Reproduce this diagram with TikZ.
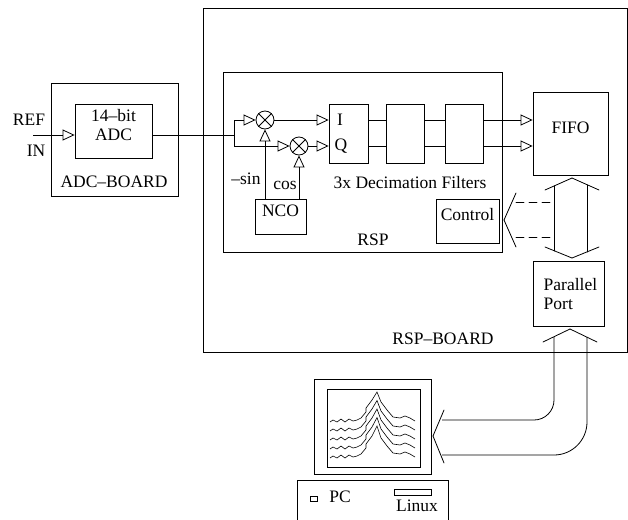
\documentclass[tikz,border=0pt]{standalone}
\usepackage{fontspec}
\setmainfont{Liberation Serif}
\usepackage{tkz-euclide}
\usetikzlibrary{arrows.meta,fit}
\tikzset{
  box/.style={draw, line width=0.8pt, inner sep=0pt},
  inarrow/.style={-{Triangle[open,length=12pt,width=11pt]}},
  mixer/.style={draw, circle, minimum size=18pt, inner sep=0pt},
}
\newcommand{\myMixer}[2]{
\node[mixer] (#1) at (#2) {};
\draw (#1.north west) -- (#1.south east) (#1.north east) -- (#1.south west);
}

\begin{document}
\begin{tikzpicture}[x=1pt, y=-1pt, line width=0.8pt, font=\fontsize{17.5}{18.5}\selectfont]
	\clip (0,0) rectangle (628,519);
	% boards
	\node[box, fit={(203,8) (627,352)}] (rspboard) {};
	\node[box, fit={(51,83) (178,196)}] (adcboard) {};
	\node[box, fit={(223,72) (502,252)}] (rsp) {};
	% blocks
	\node[box, fit={(75,104) (152,158)}, align=center] (adc) {14--bit\\ADC};
	\node[box, fit={(329,104) (368,163)}] (iq) {};
	\node[box, fit={(386,104) (424,163)}] (filtb) {};
	\node[box, fit={(445,104) (483,163)}] (filtc) {};
	\node[box, fit={(533,92) (608,175)}] (fifo) {FIFO};
	\node[box, fit={(255,199) (306,234)}] (nco) {NCO};
	\node[box, fit={(436,199) (499,243)}] (control) {Control};
	\node[box, fit={(533,261) (604,326)}] (pport) {};
	\node[anchor=west, align=left] (pporttext) at (540,294) {Parallel\\Port};
	% mixers
	\myMixer{mixa}{265,120}
	\myMixer{mixb}{299,146}
	% labels
	\node (ref) at (29,120) {REF};
	\node (in) at (36,151) {IN};
	\node (adcboardlabel) at (114,182) {ADC--BOARD};
	\node (ilabel) at (340,120) {I};
	\node (qlabel) at (341,146) {Q};
	\node (msin) at (246,179) {--sin};
	\node (cos) at (285,185) {cos};
	\node (decim) at (410,183) {3x Decimation Filters};
	\node (rsplabel) at (373,240) {RSP};
	\node (rspboardlabel) at (443,339) {RSP--BOARD};
	% signal path
	\coordinate (inport) at (33,135);
	\coordinate (split) at (234,135);
	\draw[inarrow] (inport) -- (adc.west |- inport);
	\draw (adc.east |- split) -- (split);
	\draw (split |- mixa) -- (split |- mixb);
	\draw[inarrow] (split |- mixa) -- (mixa);
	\draw[inarrow] (split |- mixb) -- (mixb);
	\draw[inarrow] (mixa) -- (iq.west |- mixa);
	\draw[inarrow] (mixb) -- (iq.west |- mixb);
	\draw[inarrow] (nco.north -| mixa) -- (mixa);
	\draw[inarrow] (nco.north -| mixb) -- (mixb);
	\foreach \m in {mixa, mixb} {
		\draw (iq.east |- \m) -- (filtb.west |- \m);
		\draw (filtb.east |- \m) -- (filtc.west |- \m);
		\draw[inarrow] (filtc.east |- \m) -- (fifo.west |- \m);
	}
	% bus between FIFO and parallel port
	\tkzDefPoints{554/186/P1, 554/251/P2, 587/185/P3, 587/252/P4}
	\tkzDefPoints{545/190/U1, 572/178/U2, 599/190/U3, 545/247/D1, 572/258/D2, 599/247/D3}
	\tkzDrawSegments[black, line width=0.8pt](P1,P2 P3,P4 U1,U2 U2,U3 D1,D2 D2,D3)
	% dashed lines to control
	\tkzDefPoints{516/202/E1, 554/202/E2, 516/237/E3, 554/237/E4}
	\tkzDefPoints{516/193/L1, 504/220/L2, 516/247/L3}
	\tkzDrawSegments[black, line width=0.8pt, dash pattern=on 8pt off 5pt](E1,E2 E3,E4)
	\tkzDrawSegments[black, line width=0.8pt](L1,L2 L2,L3)
	% bus from parallel port to PC
	\tkzDefPoints{543/342/V1, 570/329/V2, 597/342/V3, 444/410/W1, 433/436/W2, 444/463/W3}
	\tkzDrawSegments[black, line width=0.8pt](V1,V2 V2,V3 W1,W2 W2,W3)
	\tkzDefPoints{554/337/K1, 554/420/K2, 442/420/K3, 587/337/K4, 587/455/K5, 442/455/K6}
	\draw[rounded corners=20pt] (K1) -- (K2) -- (K3);
	\draw[rounded corners=33pt] (K4) -- (K5) -- (K6);
	% monitor
	\node[box, fit={(314,379) (431,474)}] (monitor) {};
	\node[box, fit={(327,389) (420,467)}] (screen) {};
	\foreach \k in {0,...,4} {
		\draw[line width=0.6pt] (330,422+9*\k) -- (333,420+9*\k) -- (337,422+9*\k) -- (341,419+9*\k)
			-- (345,422+9*\k) -- (349,419+9*\k) -- (353,421+9*\k) -- (357,420+9*\k) -- (361,418+9*\k)
			-- (366,412+9*\k) -- (366,408+9*\k) -- (372,400+9*\k) -- (377,392+8.5*\k) -- (381,402+9*\k)
			-- (387,410+9*\k) -- (393,417+9*\k) -- (400,418+9*\k) -- (405,416+9*\k) -- (410,418+9*\k)
			-- (415,421+9*\k);
	}
	% PC
	\node[box, fit={(297,480) (448,540)}] (pc) {};
	\node[box, line width=0.6pt, fit={(310,496) (317,501)}] (led) {};
	\node[box, line width=0.6pt, fit={(394,489) (431,495)}] (drive) {};
	\node (pclabel) at (340,497) {PC};
	\node (linux) at (417,506) {Linux};
\end{tikzpicture}
\end{document}
